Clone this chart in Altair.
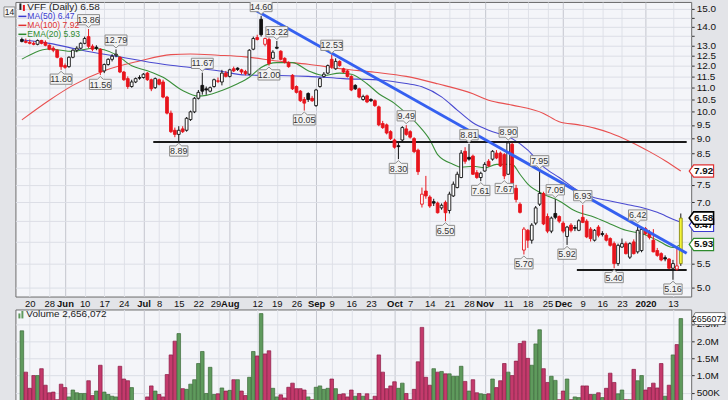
import json
import numpy as np
import pandas as pd
import altair as alt

# ---------------- data ----------------
opens = [13.30, 13.20, 13.15, 13.10, 13.05, 13.25, 13.15, 13.00, 12.85, 12.75,
         12.35, 12.00, 11.95, 12.40, 12.75, 12.85, 13.10, 13.45, 12.95, 12.90,
         12.80, 11.75, 12.05, 12.30, 12.50, 12.40, 11.70, 11.40, 11.05, 11.25,
         11.45, 11.45, 11.65, 11.35, 11.00, 11.35, 11.25, 10.60, 9.95, 9.30,
         9.15, 9.35, 9.30, 9.70, 10.00, 10.55, 11.10, 10.95, 10.85, 11.05,
         11.30, 11.25, 11.65, 11.50, 11.85, 11.88, 11.80, 11.72, 11.60, 12.80,
         13.40, 14.40, 13.05, 13.30, 12.35, 12.90, 12.70, 12.35, 12.15, 11.55,
         11.05, 10.85, 10.50, 10.75, 10.55, 10.25, 11.05, 11.50, 11.65, 12.30,
         11.85, 12.20, 11.85, 11.75, 11.50, 11.10, 10.95, 10.50, 10.65, 10.50,
         10.45, 10.20, 9.55, 9.50, 9.25, 8.95, 8.75, 8.95, 9.35, 9.25,
         9.00, 8.60, 6.95, 7.32, 7.15, 7.02, 6.98, 6.85, 7.00, 6.78,
         7.18, 7.42, 7.72, 8.56, 8.36, 8.40, 7.87, 7.72, 7.92, 8.23,
         8.30, 8.50, 8.50, 8.45, 7.82, 8.80, 7.40, 6.95, 5.80, 6.27,
         6.03, 6.45, 6.95, 7.25, 6.62, 6.25, 6.70, 6.62, 6.45, 6.12,
         6.40, 6.34, 6.27, 6.60, 6.50, 6.30, 6.03, 6.35, 6.19, 6.15,
         6.07, 5.95, 5.50, 5.87, 5.95, 5.64, 5.99, 5.76, 5.79, 6.31,
         6.22, 6.03, 5.79, 5.72, 5.63, 5.60, 5.40, 5.38, 5.50]
highs = [13.40, 13.35, 13.30, 13.20, 13.30, 13.28, 13.25, 13.05, 12.95, 12.80,
         12.40, 12.10, 12.45, 12.80, 12.95, 13.15, 13.45, 13.86, 13.05, 13.00,
         12.85, 12.10, 12.35, 12.55, 12.79, 12.45, 11.75, 11.50, 11.35, 11.45,
         11.55, 11.65, 11.70, 11.40, 11.45, 11.40, 11.35, 10.65, 10.05, 9.40,
         9.45, 9.45, 9.80, 10.05, 10.60, 10.90, 11.67, 11.05, 11.05, 11.40,
         11.45, 11.80, 11.75, 11.85, 11.95, 11.92, 11.85, 11.80, 12.80, 13.45,
         13.55, 14.60, 13.40, 13.40, 12.75, 13.22, 12.75, 12.40, 12.20, 11.60,
         11.10, 10.90, 10.60, 10.80, 10.65, 10.95, 11.45, 11.70, 12.05, 12.53,
         12.35, 12.25, 11.90, 11.80, 11.55, 11.15, 11.00, 10.70, 10.70, 10.55,
         10.50, 10.25, 9.65, 9.55, 9.30, 9.00, 8.85, 9.45, 9.49, 9.30,
         9.05, 8.65, 7.42, 7.77, 7.20, 7.10, 7.02, 6.97, 7.05, 7.30,
         7.60, 7.90, 8.60, 8.70, 8.81, 8.45, 7.95, 7.90, 8.20, 8.30,
         8.60, 8.60, 8.55, 8.50, 8.90, 8.85, 7.50, 7.00, 6.35, 6.30,
         6.45, 6.90, 7.95, 7.30, 6.70, 6.62, 7.09, 6.65, 6.50, 6.38,
         6.45, 6.40, 6.55, 6.93, 6.55, 6.35, 6.30, 6.40, 6.25, 6.20,
         6.10, 6.00, 5.95, 6.07, 6.00, 5.98, 6.05, 6.42, 6.35, 6.35,
         6.28, 6.30, 5.85, 5.75, 5.68, 5.62, 5.58, 5.85, 6.70]
lows = [13.15, 13.10, 13.05, 13.00, 13.00, 13.05, 12.95, 12.75, 12.65, 12.35,
        11.80, 11.85, 11.90, 12.35, 12.65, 12.80, 13.05, 12.85, 12.70, 12.75,
        11.56, 11.65, 12.00, 12.20, 12.40, 11.65, 11.30, 10.95, 11.00, 11.20,
        11.35, 11.40, 11.30, 10.85, 10.95, 11.10, 10.55, 9.90, 9.20, 9.05,
        8.89, 9.20, 9.25, 9.65, 9.95, 10.50, 10.70, 10.70, 10.80, 11.00,
        11.20, 11.10, 11.45, 11.45, 11.70, 11.75, 11.60, 11.55, 11.55, 12.75,
        13.25, 13.45, 12.95, 12.00, 12.30, 12.80, 12.25, 12.10, 11.90, 10.90,
        10.75, 10.40, 10.05, 10.40, 10.40, 10.20, 11.00, 11.45, 11.60, 11.85,
        11.80, 11.95, 11.65, 11.45, 10.85, 10.90, 10.55, 10.45, 10.35, 10.40,
        10.20, 9.45, 9.35, 9.15, 8.95, 8.65, 8.30, 8.90, 9.10, 9.00,
        8.50, 7.80, 6.86, 7.10, 6.85, 6.90, 6.70, 6.80, 6.50, 6.70,
        7.15, 7.40, 7.70, 8.15, 8.25, 7.80, 7.68, 7.61, 7.90, 8.05,
        8.25, 8.30, 8.05, 7.67, 7.80, 7.25, 7.00, 6.70, 5.70, 5.85,
        5.95, 6.40, 6.90, 6.40, 6.20, 6.20, 6.55, 6.45, 6.20, 5.92,
        6.22, 6.25, 6.25, 6.45, 6.08, 6.00, 6.00, 6.10, 6.12, 6.00,
        5.88, 5.40, 5.45, 5.85, 5.70, 5.60, 5.70, 5.72, 5.75, 6.15,
        6.05, 5.75, 5.65, 5.55, 5.55, 5.38, 5.16, 5.35, 5.45]
closes = [13.20, 13.15, 13.10, 13.05, 13.25, 13.10, 13.00, 12.80, 12.75, 12.40,
          11.95, 11.92, 12.40, 12.75, 12.85, 13.10, 13.35, 12.95, 12.80, 12.85,
          11.70, 12.05, 12.30, 12.45, 12.55, 11.70, 11.35, 11.05, 11.25, 11.40,
          11.42, 11.60, 11.35, 10.95, 11.40, 11.15, 10.60, 9.95, 9.25, 9.15,
          9.30, 9.25, 9.75, 10.00, 10.55, 10.80, 10.85, 10.90, 11.00, 11.35,
          11.28, 11.65, 11.50, 11.80, 11.75, 11.82, 11.70, 11.62, 12.75, 13.35,
          13.30, 13.55, 13.35, 12.10, 12.65, 12.85, 12.30, 12.15, 11.95, 10.95,
          10.80, 10.45, 10.35, 10.50, 10.45, 10.90, 11.40, 11.60, 12.00, 11.95,
          12.20, 12.00, 11.70, 11.50, 10.90, 10.95, 10.60, 10.62, 10.40, 10.45,
          10.25, 9.50, 9.40, 9.20, 9.00, 8.70, 8.72, 9.40, 9.15, 9.05,
          8.55, 7.90, 7.23, 7.18, 6.90, 6.98, 6.72, 6.92, 6.72, 7.23,
          7.52, 7.82, 8.50, 8.23, 8.30, 7.82, 7.72, 7.85, 8.13, 8.08,
          8.56, 8.34, 8.08, 7.77, 8.85, 7.30, 7.08, 6.73, 6.30, 6.03,
          6.40, 6.85, 7.25, 6.43, 6.25, 6.58, 6.60, 6.50, 6.25, 6.35,
          6.27, 6.32, 6.51, 6.47, 6.11, 6.07, 6.27, 6.15, 6.17, 6.03,
          5.91, 5.50, 5.91, 5.95, 5.72, 5.95, 5.72, 6.27, 6.29, 6.19,
          6.10, 5.76, 5.68, 5.58, 5.60, 5.40, 5.50, 5.45, 6.58]
volumes_m = [2.30, 1.10, 0.63, 1.00, 1.00, 1.20, 0.72, 0.50, 0.52, 0.30,
             0.75, 0.65, 0.38, 0.58, 0.50, 0.48, 0.48, 0.85, 0.42, 0.55,
             1.30, 0.52, 0.45, 0.40, 0.38, 1.27, 0.90, 0.85, 0.65, 0.25,
             0.25, 0.25, 0.38, 0.70, 0.55, 0.45, 0.38, 1.03, 1.60, 2.00,
             2.22, 0.62, 0.60, 0.75, 0.88, 1.35, 1.70, 0.48, 1.24, 0.45,
             0.47, 0.64, 0.55, 0.57, 0.88, 0.88, 0.55, 0.42, 0.95, 1.70,
             1.57, 2.80, 1.63, 1.72, 0.63, 0.38, 0.44, 0.35, 0.66, 0.78,
             0.62, 0.62, 0.58, 0.38, 0.30, 0.66, 0.70, 0.60, 0.63, 0.90,
             0.62, 0.45, 0.47, 0.38, 0.58, 0.40, 0.48, 0.40, 0.47, 0.30,
             0.40, 1.60, 1.10, 0.62, 0.70, 0.82, 0.63, 0.78, 0.48, 0.30,
             0.60, 1.40, 2.40, 0.95, 0.72, 1.20, 1.10, 1.12, 1.05, 1.05,
             0.98, 0.98, 1.27, 0.83, 0.55, 0.88, 0.50, 0.47, 0.45, 0.47,
             0.90, 0.65, 0.85, 1.35, 1.10, 1.00, 1.42, 1.93, 2.00, 1.50,
             1.30, 1.92, 2.33, 1.20, 0.80, 0.98, 0.86, 0.30, 0.55, 0.90,
             0.30, 0.38, 0.36, 0.70, 0.70, 0.45, 0.45, 0.50, 0.36, 0.63,
             1.07, 0.80, 0.47, 0.58, 0.30, 0.30, 1.18, 0.85, 1.00, 0.58,
             0.65, 0.78, 0.64, 1.35, 0.40, 0.72, 1.60, 1.90, 2.656]
prior_close = 13.10

# date axis (trading-day index -> label)
tick_pos = [2, 7, 11, 16, 21, 26, 31, 35, 40, 45, 50, 53, 60, 65, 70, 75, 79, 84, 89,
            95, 99, 104, 109, 114, 118, 124, 129, 134, 138, 143, 148, 153, 159, 166]
tick_text = ["20", "28", "Jun", "10", "17", "24", "Jul", "8", "15", "22", "29", "Aug",
             "12", "19", "26", "Sep", "9", "16", "23", "Oct", "7", "14", "21", "28",
             "Nov", "11", "18", "25", "Dec", "9", "16", "23", "2020", "13"]
month_pos = [11, 31, 53, 75, 95, 118, 138, 159]
crowded_pos = 50  # "29" sits right before "Aug"

# price axis ticks; labels hidden where the value tags cover them
price_ticks = [5.0, 5.5, 6.0, 6.5, 7.0, 7.5, 8.0, 8.5, 9.0, 9.5, 10.0, 10.5, 11.0,
               11.5, 12.0, 12.5, 13.0, 13.5, 14.0, 14.5, 15.0]
covered_ticks = [6.0, 6.5, 8.0]

# indicator lines (read at sample points)
ma50_j = [0, 7, 15, 24, 36, 43, 50, 57, 65, 73, 82, 92, 98, 102, 107, 111, 115, 119,
          125, 129, 133, 137, 142, 146, 150, 154, 158, 162, 166, 168]
ma50_v = [13.27, 13.10, 12.76, 12.45, 12.06, 11.91, 11.76, 11.56, 11.54, 11.50, 11.40,
          11.33, 11.18, 11.04, 10.61, 10.07, 9.58, 9.30, 9.00, 8.60, 8.05, 7.72, 7.32,
          7.13, 7.04, 6.95, 6.86, 6.73, 6.55, 6.47]
ma100_j = [0, 7, 13, 21, 30, 38, 43, 50, 57, 65, 73, 82, 90, 98, 106, 115, 119, 125,
           133, 137, 142, 146, 150, 155, 160, 164, 168]
ma100_v = [9.69, 10.47, 11.10, 11.76, 12.22, 12.53, 12.56, 12.50, 12.42, 12.22, 12.06,
           11.84, 11.69, 11.50, 11.17, 10.74, 10.47, 10.27, 9.94, 9.62, 9.50, 9.38,
           9.20, 8.90, 8.55, 8.25, 7.92]
ema20_j = [0, 7, 13, 18, 24, 28, 32, 36, 41, 45, 47, 51, 55, 58, 61, 65, 69, 73, 77,
           81, 84, 88, 91, 95, 98, 101, 104, 106, 110, 112, 115, 118, 121, 125, 127,
           129, 133, 137, 141, 146, 150, 154, 158, 162, 166, 168]
ema20_v = [12.31, 12.81, 12.69, 12.85, 12.53, 11.99, 11.76, 11.46, 10.88, 10.64, 10.67,
           10.88, 11.17, 11.46, 11.91, 12.14, 12.14, 11.76, 11.54, 11.65, 11.60, 11.17,
           10.74, 10.34, 9.94, 9.50, 8.96, 8.45, 8.13, 8.04, 8.07, 8.02, 8.13, 8.13,
           7.82, 7.52, 7.23, 7.04, 6.77, 6.60, 6.43, 6.27, 6.19, 6.03, 5.86, 5.93]

trend_j = [59, 169.5]
trend_v = [15.0, 5.73]
res_j = [33.5, 169.5]
res_v = [8.88, 8.88]
sup_j = [141.5, 169.5]
sup_v = [5.36, 5.36]

high_marks = [17, 24, 46, 61, 65, 79, 98, 114, 124, 132, 136, 143, 157]
low_marks = [10, 20, 40, 63, 72, 96, 108, 117, 123, 128, 139, 151, 166]

tag_vals = [6.47, 5.93, 7.92, 6.58]
tag_cols = ["#3b3bd0", "#2e8b2e", "#e03030", "#000000"]
tag_shift = [3, 0, 0, 0]   # the MA(50) tag is pushed below the price tag
last_volume = 2656072
left_label = "14"

# ---------------- tables ----------------
n = len(closes)
prev = [prior_close] + closes[:-1]
df = pd.DataFrame({"j": range(n), "o": opens, "h": highs, "l": lows, "c": closes,
                   "pc": prev, "vol": volumes_m})
up = df["c"] >= df["pc"]
hollow = df["c"] > df["o"]
df["stroke"] = np.where(up, "#111111", "#e8141c")
df["fill"] = np.where(hollow, "#ffffff", df["stroke"])
df.loc[n - 1, "fill"] = "#f4f43a"
df.loc[n - 1, "stroke"] = "#8c8c10"
df["wick"] = df["stroke"]
df.loc[n - 1, "wick"] = "#111111"
df["vfill"] = np.where(up, "#5f9a5d", "#c43a6c")
df["vstroke"] = np.where(up, "#3c6b3a", "#8a1a44")

lines = pd.concat([
    pd.DataFrame({"j": ma100_j, "v": ma100_v, "s": "ma100"}),
    pd.DataFrame({"j": ma50_j, "v": ma50_v, "s": "ma50"}),
    pd.DataFrame({"j": ema20_j, "v": ema20_v, "s": "ema20"}),
])

ann = pd.concat([
    pd.DataFrame({"j": high_marks, "v": [highs[k] for k in high_marks], "pos": "h"}),
    pd.DataFrame({"j": low_marks, "v": [lows[k] for k in low_marks], "pos": "l"}),
], ignore_index=True)
ann["t"] = ann["v"].map(lambda x: f"{x:.2f}")
ann["k"] = ann["pos"] + np.where(ann["t"].str.len() > 4, "w", "n")

# ---------------- scales / axes ----------------
FONT = "Liberation Sans"
xs = alt.Scale(domain=[-0.375, 169.375], nice=False, zero=False)
ys = alt.Scale(type="log", domain=[4.83, 15.42], nice=False, zero=False)
vs = alt.Scale(domain=[0.289, 2.92], nice=False, zero=False)

lab_arr = [""] * 172
for p, t in zip(tick_pos, tick_text):
    lab_arr[p] = t
month_test = "indexof(%s, datum.value) >= 0" % json.dumps(month_pos)

XP = alt.Axis(values=tick_pos, labelExpr=json.dumps(lab_arr) + "[datum.value]",
              orient="bottom", ticks=False, domain=False, title=None,
              grid=True, gridWidth=1,
              gridColor={"condition": {"test": month_test, "value": "#c4c6ce"},
                         "value": "#dfe1e8"},
              labelFont=FONT, labelFontSize=9.5, labelColor="#111",
              labelPadding=2, labelFlush=False, labelOverlap=False,
              labelOffset={"condition": {"test": f"datum.value == {crowded_pos}",
                                         "value": -2.5}, "value": 0},
              labelFontWeight={"condition": {"test": month_test, "value": "bold"},
                               "value": "normal"})
XV = alt.Axis(values=tick_pos, labels=False, ticks=False, domain=False,
              title=None, orient="bottom", grid=True,
              gridColor={"condition": {"test": month_test, "value": "#c4c6ce"},
                         "value": "#dfe1e8"})
YP = alt.Axis(values=price_ticks, orient="right", title=None,
              labelExpr="indexof(%s, datum.value) >= 0 ? '' : format(datum.value, '.1f')"
              % json.dumps(covered_ticks),
              domain=False, tickSize=3, tickColor="#333", grid=True,
              gridColor="#dcdee6", labelFont=FONT, labelFontSize=10,
              labelColor="#111", labelPadding=2)
YV = alt.Axis(values=[0.5, 1.0, 1.5, 2.0, 2.5], orient="right", title=None,
              domain=False, tickSize=3, tickColor="#333", grid=True,
              gridColor="#dcdee6",
              labelExpr="datum.value < 1 ? '500K' : format(datum.value, '.1f') + 'M'",
              labelFont=FONT, labelFontSize=10, labelColor="#111", labelPadding=2)


def px(field="j"):
    return alt.X(f"{field}:Q", scale=xs, axis=XP)


def py(field):
    return alt.Y(f"{field}:Q", scale=ys, axis=YP)


# ---------------- price panel ----------------
W, HP, HV = 679, 296, 91

ma_lines = alt.Chart(lines).mark_line(strokeWidth=1.1, interpolate="monotone").encode(
    x=px(), y=py("v"),
    color=alt.Color("s:N", scale=alt.Scale(domain=["ma100", "ma50", "ema20"],
                                           range=["#e85050", "#4a4ad0", "#3a8f3a"]),
                    legend=None),
    detail="s:N",
)


def seg(jv, vv, color, width):
    d = pd.DataFrame({"j": jv, "v": vv})
    return alt.Chart(d).mark_line(color=color, strokeWidth=width).encode(x=px(), y=py("v"))


res_line = seg(res_j, res_v, "#1a1a1a", 2)
sup_line = seg(sup_j, sup_v, "#1a1a1a", 2)
trend_line = seg(trend_j, trend_v, "#3560f0", 3)

cbase = alt.Chart(df)
wicks = cbase.mark_rule(strokeWidth=1).encode(
    x=px(), y=py("l"), y2="h:Q", color=alt.Color("wick:N", scale=None))
bodies = cbase.mark_bar(size=2.8, strokeWidth=0.9).encode(
    x=px(), y=py("o"), y2="c:Q",
    fill=alt.Fill("fill:N", scale=None), stroke=alt.Stroke("stroke:N", scale=None))

R = 10  # symbol scale (size = (2R)^2)


def box(top, w):
    s = -1 if top else 1
    return (f"M0,{0.15*s}L-0.3,{0.42*s}L-{w},{0.42*s}L-{w},{1.45*s}"
            f"L{w},{1.45*s}L{w},{0.42*s}L0.3,{0.42*s}Z")


shape_dom = ["hw", "hn", "lw", "ln"]
shape_rng = [box(True, 1.1), box(True, 0.92), box(False, 1.1), box(False, 0.92)]
ann_box = alt.Chart(ann).mark_point(size=(2 * R) ** 2, filled=True, fill="#f3f3f3",
                                    stroke="#8d8d8d", strokeWidth=1, opacity=1,
                                    clip=True).encode(
    x=px(), y=py("v"),
    shape=alt.Shape("k:N", scale=alt.Scale(domain=shape_dom, range=shape_rng), legend=None))
ann_hi_txt = alt.Chart(ann[ann["pos"] == "h"]).mark_text(
    font=FONT, fontSize=9, color="#333", yOffset=-9.3, baseline="middle", clip=True
).encode(x=px(), y=py("v"), text="t:N")
ann_lo_txt = alt.Chart(ann[ann["pos"] == "l"]).mark_text(
    font=FONT, fontSize=9, color="#333", yOffset=9.6, baseline="middle", clip=True
).encode(x=px(), y=py("v"), text="t:N")

tag_path = "M0,0L0.45,-0.62L2.45,-0.62L2.45,0.62L0.45,0.62Z"


def tag(v, col, sw, shift):
    d = pd.DataFrame({"v": [v], "t": [f"{v:.2f}"]})
    b = alt.Chart(d).mark_point(shape=tag_path, size=(2 * R) ** 2, filled=True,
                                fill="#ffffff", stroke=col, strokeWidth=sw,
                                opacity=1, yOffset=shift).encode(x=alt.value(677), y=py("v"))
    t = alt.Chart(d).mark_text(font=FONT, fontSize=10, fontWeight="bold", align="center",
                               baseline="middle", color="#111", yOffset=shift).encode(
        x=alt.value(691.5), y=py("v"), text="t:N")
    return [b, t]


tag_layers = []
for v, col, sh in zip(tag_vals, tag_cols, tag_shift):
    tag_layers += tag(v, col, 1.6 if col == "#000000" else 1.2, sh)

one = df.head(1)


def legend_line(y, text, color, size, dash=True):
    layers = []
    if dash:
        layers.append(alt.Chart(one).mark_rule(color=color, strokeWidth=1.5).encode(
            x=alt.value(3), x2=alt.value(11), y=alt.value(y)))
    layers.append(alt.Chart(one).mark_text(
        font=FONT, fontSize=size, align="left", baseline="middle", color=color, text=text
    ).encode(x=alt.value(12), y=alt.value(y)))
    return layers


leg_layers = [
    alt.Chart(one).mark_bar(color="#222").encode(
        x=alt.value(4), x2=alt.value(6), y=alt.value(1.5), y2=alt.value(8)),
    alt.Chart(one).mark_bar(color="#e8141c").encode(
        x=alt.value(7.5), x2=alt.value(9.5), y=alt.value(3), y2=alt.value(9)),
]
leg_layers += legend_line(5, f"VFF (Daily) {closes[-1]:.2f}", "#222", 10, dash=False)
leg_layers += legend_line(14.5, f"MA(50) {ma50_v[-1]:.2f}", "#3b3bd0", 8.6)
leg_layers += legend_line(23.5, f"MA(100) {ma100_v[-1]:.2f}", "#e03030", 8.6)
leg_layers += legend_line(32.5, f"EMA(20) {ema20_v[-1]:.2f}", "#2e8b2e", 8.6)

# small box in the left margin (its left edge sets the page's left margin)
left_box = alt.Chart(one).mark_point(shape="M-0.55,-0.5L0.55,-0.5L0.55,0.5L-0.55,0.5Z",
                                     size=(2 * R) ** 2, filled=True, fill="#f6f6f6",
                                     stroke="#8d8d8d", strokeWidth=1, opacity=1).encode(
    x=alt.value(-6), y=alt.value(10))
left_txt = alt.Chart(one).mark_text(font=FONT, fontSize=8.5, color="#222", align="center",
                                    baseline="middle", text=left_label).encode(
    x=alt.value(-6), y=alt.value(10.5))

price = alt.layer(
    ma_lines, res_line, sup_line, wicks, bodies, trend_line,
    ann_box, ann_hi_txt, ann_lo_txt, *leg_layers, *tag_layers, left_box, left_txt,
).properties(width=W, height=HP)

# ---------------- volume panel ----------------
vx = alt.X("j:Q", scale=xs, axis=XV)


def vy(field):
    return alt.Y(f"{field}:Q", scale=vs, axis=YV)


vbars = alt.Chart(df).mark_bar(size=3.6, strokeWidth=0.7, clip=True).encode(
    x=vx, y=vy("vol"), y2=alt.datum(0),
    fill=alt.Fill("vfill:N", scale=None), stroke=alt.Stroke("vstroke:N", scale=None))

vtag_df = pd.DataFrame({"v": [last_volume / 1e6], "t": [str(last_volume)]})
vtag_box = alt.Chart(vtag_df).mark_point(
    shape="M0,0L0.3,-0.6L3.3,-0.6L3.3,0.6L0.3,0.6Z", size=(2 * R) ** 2, filled=True,
    fill="#ffffff", stroke="#777", strokeWidth=1, opacity=1).encode(
    x=alt.value(680), y=vy("v"))
vtag_txt = alt.Chart(vtag_df).mark_text(font=FONT, fontSize=9, color="#111",
                                        align="center", baseline="middle").encode(
    x=alt.value(697), y=vy("v"), text="t:N")
vleg = [
    alt.Chart(one).mark_bar(color="#5f9a5d").encode(
        x=alt.value(3), x2=alt.value(5), y=alt.value(4), y2=alt.value(9)),
    alt.Chart(one).mark_bar(color="#5f9a5d").encode(
        x=alt.value(6), x2=alt.value(8), y=alt.value(1.5), y2=alt.value(9)),
    alt.Chart(one).mark_text(font=FONT, fontSize=10, align="left", baseline="middle",
                             color="#222", text=f"Volume {last_volume:,}").encode(
        x=alt.value(11), y=alt.value(5)),
]
volume = alt.layer(vbars, vtag_box, vtag_txt, *vleg).properties(width=W, height=HV)

chart = alt.vconcat(price, volume, spacing=13, bounds="flush").properties(
    padding={"left": 1.5, "top": 0, "right": 0, "bottom": 0},
    background="#e3e4e8",
).configure_view(fill="#f4f5f9", stroke="#6b6b6b", strokeWidth=1)

chart.save("out.html", embed_options={"renderer": "svg", "actions": False})
